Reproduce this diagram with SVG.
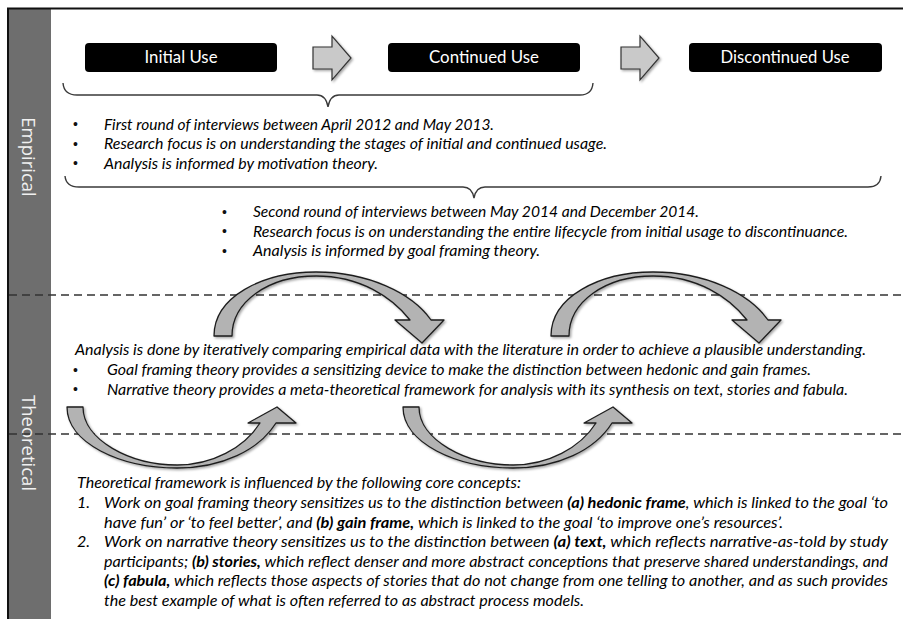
<svg xmlns="http://www.w3.org/2000/svg" width="903" height="619" viewBox="0 0 903 619">
<style>
.t{font-family:Lato,"Open Sans","Liberation Sans",sans-serif;font-style:italic;font-size:16px;fill:#000}
.bl{font-family:"Liberation Sans",sans-serif;font-size:14px;fill:#111}
.b{font-weight:bold}
.box{fill:#000}
.boxt{font-family:Lato,"Open Sans","Liberation Sans",sans-serif;font-size:17.5px;fill:#fff;text-anchor:middle}
.side{font-family:"Open Sans","Liberation Sans",sans-serif;font-size:18.5px;fill:#f0f0f0;text-anchor:middle;dominant-baseline:central}
.brace{fill:none;stroke:#3a3a3a;stroke-width:1.4}
.dash{stroke:#333;stroke-width:1.6;stroke-dasharray:8 5;fill:none}
.blk{fill:#c9c9c9;stroke:#333;stroke-width:1.2;filter:url(#sh)}
.carr{fill:#b3b3b3;stroke:#1e1e1e;stroke-width:1.3;stroke-linejoin:round;filter:url(#sh)}
</style>
<defs>
<filter id="sh" x="-20%" y="-20%" width="140%" height="140%">
<feDropShadow dx="1.5" dy="1.5" stdDeviation="1.2" flood-color="#000" flood-opacity="0.35"/>
</filter>
</defs>
<rect x="0" y="0" width="903" height="619" fill="#fff"/>
<g id="frame">
<rect x="9" y="9" width="42" height="610" fill="#6e6e6e"/>
<line x1="7" y1="8.5" x2="903" y2="8.5" stroke="#111" stroke-width="2"/>
<line x1="8" y1="8" x2="8" y2="619" stroke="#111" stroke-width="2"/>
<text class="side" transform="translate(29,157) rotate(90)">Empirical</text>
<text class="side" transform="translate(29,443) rotate(90)">Theoretical</text>
</g>
<line class="dash" x1="9" y1="295" x2="903" y2="295"/>
<line class="dash" x1="9" y1="434" x2="903" y2="434"/>
<g id="initial-use">
<rect class="box" x="85" y="43" width="192" height="29" rx="4"/>
<text class="boxt" x="181" y="63" textLength="73" lengthAdjust="spacingAndGlyphs">Initial Use</text>
</g>
<g id="continued-use">
<rect class="box" x="388" y="43" width="192" height="29" rx="4"/>
<text class="boxt" x="484" y="63" textLength="110" lengthAdjust="spacingAndGlyphs">Continued Use</text>
</g>
<g id="discontinued-use">
<rect class="box" x="689" y="43" width="193" height="29" rx="4"/>
<text class="boxt" x="785" y="63" textLength="129" lengthAdjust="spacingAndGlyphs">Discontinued Use</text>
</g>
<g id="connectors">
<path class="blk" d="M313 47 H332 V36 L351 58 L332 80 V69 H313 Z"/>
<path class="blk" d="M621 47 H640 V36 L659 58 L640 80 V69 H621 Z"/>
<path class="carr" d="M214 336 C214 297 262 272 316 272 C368 272 412 293 431 320 L444 320 L422 343 L395 320 L410 320 C392 297 360 276 316 276 C268 276 232 302 232 336 Z"/>
<path class="carr" transform="translate(337,0)" d="M214 336 C214 297 262 272 316 272 C368 272 412 293 431 320 L444 320 L422 343 L395 320 L410 320 C392 297 360 276 316 276 C268 276 232 302 232 336 Z"/>
<path class="carr" d="M67 407 C67 443 120 468 177 468 C222 468 259 450 276 423 L296 423 L277 407 L248 423 L260 423 C244 448 212 465 177 465 C130 465 83 440 83 407 Z"/>
<path class="carr" transform="translate(336,0)" d="M67 407 C67 443 120 468 177 468 C222 468 259 450 276 423 L296 423 L277 407 L248 423 L260 423 C244 448 212 465 177 465 C130 465 83 440 83 407 Z"/>
</g>
<g id="brace1">
<path class="brace" d="M63 83 Q64 95 77 95 L317 95 Q326 95 328 107 Q330 95 339 95 L580 95 Q592 95 593 83"/>
</g>
<g id="brace2">
<path class="brace" d="M65 176 Q66 187 79 187 L463 187 Q472 187 474 198 Q476 187 485 187 L868 187 Q880 187 881 176"/>
</g>
<g id="round1">
<text class="bl" x="73" y="129">•</text>
<text class="bl" x="73" y="148.5">•</text>
<text class="bl" x="73" y="168">•</text>
<text class="t" x="104" y="129.5" textLength="390" lengthAdjust="spacingAndGlyphs">First round of interviews between April 2012 and May 2013.</text>
<text class="t" x="104" y="149" textLength="503" lengthAdjust="spacingAndGlyphs">Research focus is on understanding the stages of initial and continued usage.</text>
<text class="t" x="104" y="168.5" textLength="274" lengthAdjust="spacingAndGlyphs">Analysis is informed by motivation theory.</text>
</g>
<g id="round2">
<text class="bl" x="222" y="216.5">•</text>
<text class="bl" x="222" y="236">•</text>
<text class="bl" x="222" y="255.5">•</text>
<text class="t" x="253" y="217" textLength="446" lengthAdjust="spacingAndGlyphs">Second round of interviews between May 2014 and December 2014.</text>
<text class="t" x="253" y="236.5" textLength="595" lengthAdjust="spacingAndGlyphs">Research focus is on understanding the entire lifecycle from initial usage to discontinuance.</text>
<text class="t" x="253" y="256" textLength="287" lengthAdjust="spacingAndGlyphs">Analysis is informed by goal framing theory.</text>
</g>
<g id="analysis">
<text class="t" x="75" y="355" textLength="791" lengthAdjust="spacingAndGlyphs">Analysis is done by iteratively comparing empirical data with the literature in order to achieve a plausible understanding.</text>
<text class="bl" x="73" y="374.5">•</text>
<text class="bl" x="73" y="394">•</text>
<text class="t" x="107" y="375" textLength="704" lengthAdjust="spacingAndGlyphs">Goal framing theory provides a sensitizing device to make the distinction between hedonic and gain frames.</text>
<text class="t" x="107" y="394.5" textLength="741" lengthAdjust="spacingAndGlyphs">Narrative theory provides a meta-theoretical framework for analysis with its synthesis on text, stories and fabula.</text>
</g>
<g id="framework">
<text class="t" x="77" y="488" textLength="444" lengthAdjust="spacingAndGlyphs">Theoretical framework is influenced by the following core concepts:</text>
<text class="t" x="77" y="508">1.</text>
<text class="t" x="104" y="508" textLength="784" lengthAdjust="spacingAndGlyphs">Work on goal framing theory sensitizes us to the distinction between <tspan class="b">(a) hedonic frame</tspan>, which is linked to the goal ‘to</text>
<text class="t" x="104" y="527.5" textLength="679" lengthAdjust="spacingAndGlyphs">have fun’ or ‘to feel better’, and <tspan class="b">(b) gain frame,</tspan> which is linked to the goal ‘to improve one’s resources’.</text>
<text class="t" x="77" y="547">2.</text>
<text class="t" x="104" y="547" textLength="784" lengthAdjust="spacingAndGlyphs">Work on narrative theory sensitizes us to the distinction between <tspan class="b">(a) text,</tspan> which reflects narrative-as-told by study</text>
<text class="t" x="104" y="566.5" textLength="784" lengthAdjust="spacingAndGlyphs">participants; <tspan class="b">(b) stories,</tspan> which reflect denser and more abstract conceptions that preserve shared understandings, and</text>
<text class="t" x="104" y="586" textLength="784" lengthAdjust="spacingAndGlyphs"><tspan class="b">(c) fabula,</tspan> which reflects those aspects of stories that do not change from one telling to another, and as such provides</text>
<text class="t" x="104" y="605.5" textLength="480" lengthAdjust="spacingAndGlyphs">the best example of what is often referred to as abstract process models.</text>
</g>
</svg>
